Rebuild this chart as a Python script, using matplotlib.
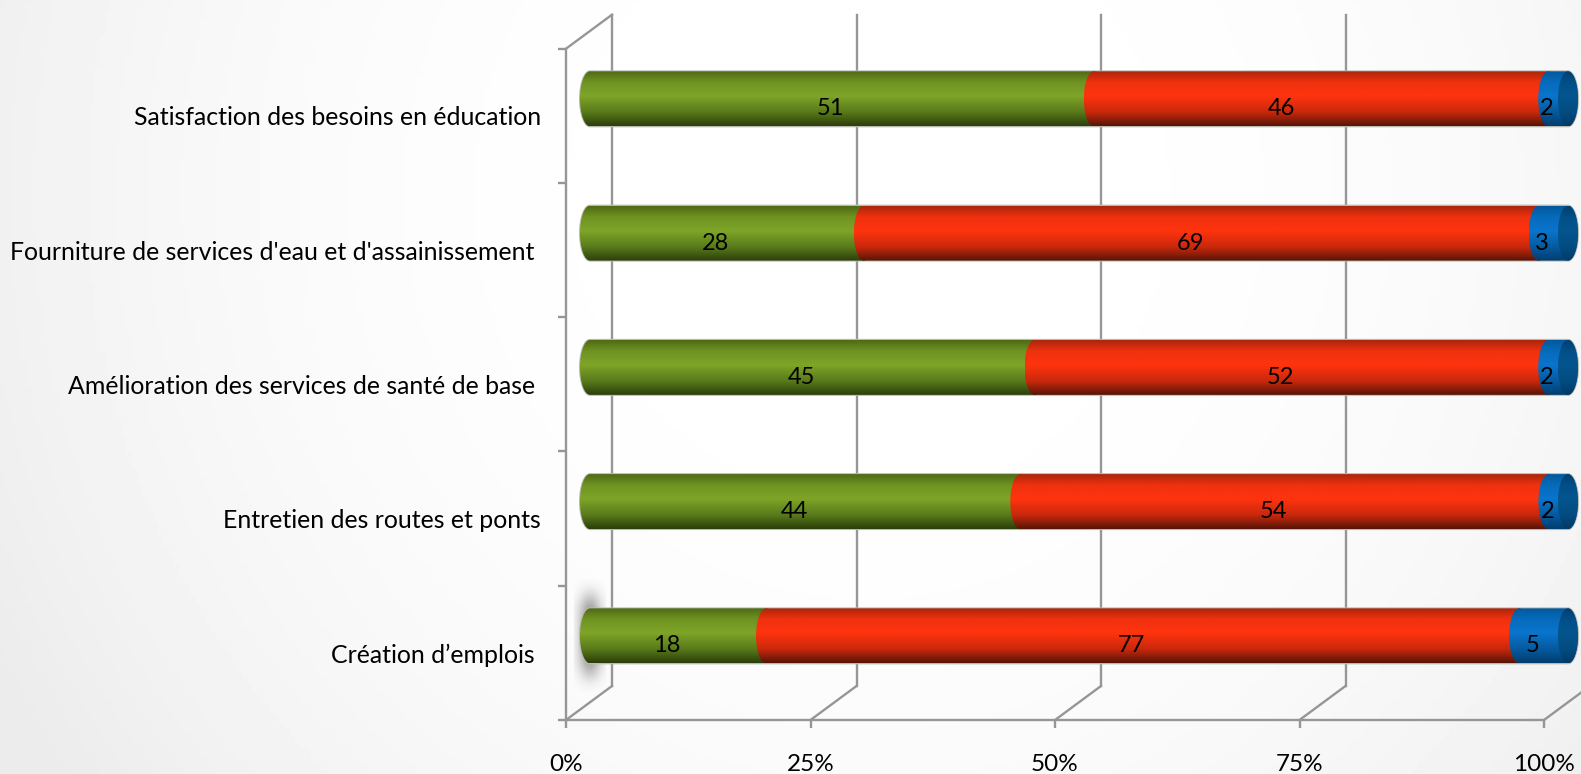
"""Stacked 3D-style cylinder bars, redrawn from an Excel chart."""
import matplotlib
matplotlib.use("Agg")
import matplotlib.pyplot as plt
import numpy as np
from matplotlib.colors import LinearSegmentedColormap
from matplotlib.patches import PathPatch
from matplotlib.path import Path
from matplotlib.transforms import Affine2D

plt.rcParams["font.family"] = ["Lato", "DejaVu Sans"]

W, H = 1581, 774

categories = [
    "Satisfaction des besoins en éducation",
    "Fourniture de services d'eau et d'assainissement ",
    "Amélioration des services de santé de base ",
    "Entretien des routes et ponts",
    "Création d’emplois ",
]
green_vals = [51, 28, 45, 44, 18]
red_vals = [46, 69, 52, 54, 77]
blue_vals = [2, 3, 2, 2, 5]
x_ticks = [0, 25, 50, 75, 100]

GREEN = ["#4f6b14", "#6f9322", "#7ea528", "#587a1a", "#2c3e0b"]
RED = ["#ab260c", "#f0310f", "#ff340f", "#c9280c", "#571407"]
BLUE = ["#03599c", "#066bbb", "#0a75cd", "#055a9e", "#023e6e"]
CAP = ["#023f70", "#034f88", "#03558f", "#034c80", "#023a66"]
STOPS = [0, 0.2, 0.45, 0.75, 1]
GRID = "#969696"

fig = plt.figure(figsize=(W / 100, H / 100), dpi=100)

# soft grey slide background, darkest at the left edge and lower corners
bg = fig.add_axes([0, 0, 1, 1], zorder=0)
yy, xx = np.mgrid[0:1:200j, 0:1:300j]
shade = np.clip(np.hypot((xx - 0.55) / 0.62, (yy - 0.25) / 1.3), 0, 1) ** 2.5
bg.imshow(1 - 0.075 * shade, cmap="gray", vmin=0, vmax=1, aspect="auto",
          origin="upper", extent=(0, 1, 0, 1))
bg.axis("off")

x0, x1, y_top, y_bot = 566, 1544, 48.7, 720
ax = fig.add_axes([x0 / W, 1 - y_bot / H, (x1 - x0) / W, (y_bot - y_top) / H], zorder=1)
ax.patch.set_alpha(0)
ax.set_xlim(0, 100)
ax.set_ylim(5, 0)

for side in ["top", "right"]:
    ax.spines[side].set_visible(False)
for side in ["left", "bottom"]:
    ax.spines[side].set_color(GRID)
    ax.spines[side].set_linewidth(1.7)

ax.set_xticks(x_ticks)
ax.set_xticklabels([f"{t}%" for t in x_ticks], fontsize=17.5)
ax.set_yticks(range(6))
ax.set_yticklabels([])
ax.set_yticks(np.arange(5) + 0.5, categories, minor=True, fontsize=17.9)
ax.tick_params(axis="both", which="major", length=6, width=1.7, color=GRID)
ax.tick_params(axis="y", which="minor", length=0, pad=18)
ax.tick_params(axis="x", pad=18.4)

back = ax.transData + Affine2D().translate(46, 34)
mid = ax.transData + Affine2D().translate(24, 17)
dx_back = 46 * 100 / (x1 - x0)
dy_back = 34 * 5 / (y_bot - y_top)

# back wall gridlines and floor/side diagonals
for t in x_ticks:
    ax.plot([t, t], [0, 5], color=GRID, lw=1.7, transform=back, clip_on=False, zorder=1)
    ax.plot([t, t + dx_back], [5, 5 - dy_back], color=GRID, lw=1.7, clip_on=False, zorder=1)
ax.plot([0, dx_back], [0, -dy_back], color=GRID, lw=1.7, clip_on=False, zorder=1)

# grey glow behind the lowest bar
gy, gx = np.mgrid[-1:1:120j, -1:1:60j]
glow = np.zeros((120, 60, 4))
glow[..., :3] = 0.35
glow[..., 3] = 0.65 * np.exp(-((gx / 0.7) ** 2 + (gy / 0.72) ** 4))
im = ax.imshow(glow, extent=(-1.6, 1.6, 4.92, 4.08), transform=mid, aspect="auto", zorder=2)
im.set_clip_box(fig.bbox)
im.set_clip_path(None)

hw = 10 * 100 / (x1 - x0)   # half width of the end ellipse, in x units
hh = 27.5 * 5 / (y_bot - y_top)  # half height of a bar, in y units
K = 0.5523


def capsule(left, right, cy):
    top, bot = cy - hh, cy + hh
    verts = [
        (left, top),
        (left - K * hw, top), (left - hw, cy - K * hh), (left - hw, cy),
        (left - hw, cy + K * hh), (left - K * hw, bot), (left, bot),
        (right, bot),
        (right + K * hw, bot), (right + hw, cy + K * hh), (right + hw, cy),
        (right + hw, cy - K * hh), (right + K * hw, top), (right, top),
        (left, top),
    ]
    codes = [Path.MOVETO] + [Path.CURVE4] * 6 + [Path.LINETO] + [Path.CURVE4] * 6 + [Path.CLOSEPOLY]
    return Path(verts, codes)


def gradient_fill(path, colours, z):
    cmap = LinearSegmentedColormap.from_list("c", list(zip(STOPS, colours)))
    ext = path.get_extents()
    im = ax.imshow(np.linspace(0, 1, 128)[:, None], cmap=cmap, aspect="auto", transform=mid,
                   extent=(ext.x0, ext.x1, ext.y1, ext.y0), origin="upper", zorder=z)
    # the image code falls back to the axes box if there is no clip box, so give it the whole figure
    im.set_clip_box(fig.bbox)
    im.set_clip_path(PathPatch(path, transform=mid))


def end_cap(cx, cy):
    th = np.linspace(0, 2 * np.pi, 80)
    return Path(np.column_stack([cx + hw * np.cos(th), cy + hh * np.sin(th)]))


for i in range(5):
    cy = i + 0.5
    vals = [green_vals[i], red_vals[i], blue_vals[i]]
    total = sum(vals)
    left = 0
    # thin light rim round the whole bar
    ax.add_patch(PathPatch(capsule(0, 100, cy), transform=mid, fc="none", ec="#b9b9b2", lw=1.4,
                           zorder=3, clip_on=False))
    for j, (v, colours) in enumerate(zip(vals, [GREEN, RED, BLUE])):
        width = v / total * 100
        gradient_fill(capsule(left, left + width, cy), colours, 4 + j)
        # label sits left of and below the segment centre; the top red one was moved by hand
        nudge = -29 if (i == 0 and j == 1) else 0
        lab = ax.transData + Affine2D().translate(13 + nudge, 7)
        ax.text(left + width / 2, cy, str(v), transform=lab, ha="center", va="center",
                fontsize=17, color="black", zorder=9, clip_on=False)
        left += width
    gradient_fill(end_cap(100, cy), CAP, 8)

ax.set_ylim(5, 0)
ax.set_xlim(0, 100)
fig.savefig("out.png", dpi=100)
